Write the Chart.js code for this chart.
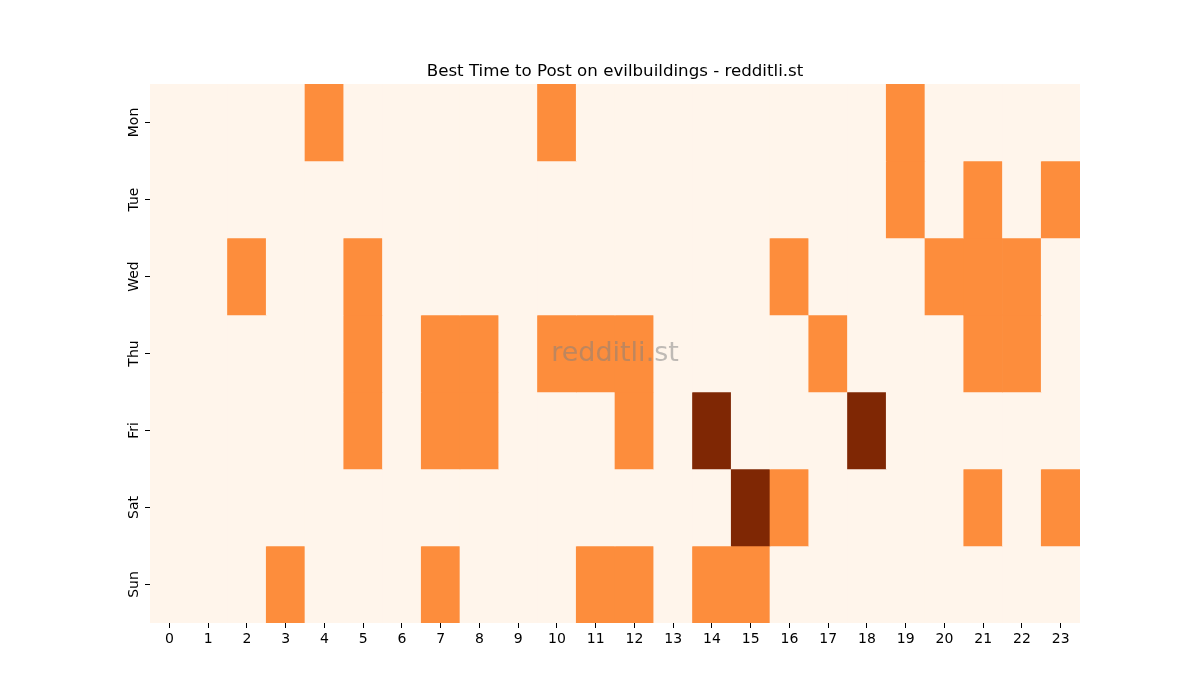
<!DOCTYPE html>
<html>
<head>
<meta charset="utf-8">
<script src="https://cdn.jsdelivr.net/npm/chart.js@4"></script>
<style>
  html, body { margin: 0; padding: 0; background: #fff; }
  #wrap { width: 1200px; height: 700px; }
</style>
</head>
<body>
<div id="wrap"><canvas id="heat"></canvas></div>
<script>
const hours = ['0','1','2','3','4','5','6','7','8','9','10','11','12','13','14','15','16','17','18','19','20','21','22','23'];
const days = ['Mon', 'Tue', 'Wed', 'Thu', 'Fri', 'Sat', 'Sun'];

// 0 = low, 1 = mid, 2 = best
const mon = [0,0,0,0,1,0,0,0,0,0,1,0,0,0,0,0,0,0,0,1,0,0,0,0];
const tue = [0,0,0,0,0,0,0,0,0,0,0,0,0,0,0,0,0,0,0,1,0,1,0,1];
const wed = [0,0,1,0,0,1,0,0,0,0,0,0,0,0,0,0,1,0,0,0,1,1,1,0];
const thu = [0,0,0,0,0,1,0,1,1,0,1,1,1,0,0,0,0,1,0,0,0,1,1,0];
const fri = [0,0,0,0,0,1,0,1,1,0,0,0,1,0,2,0,0,0,2,0,0,0,0,0];
const sat = [0,0,0,0,0,0,0,0,0,0,0,0,0,0,0,2,1,0,0,0,0,1,0,1];
const sun = [0,0,0,1,0,0,0,1,0,0,0,1,1,0,1,1,0,0,0,0,0,0,0,0];

const rows = [mon, tue, wed, thu, fri, sat, sun];
const palette = ['#fff5eb', '#fd8d3c', '#7f2704'];
const titleText = 'Best Time to Post on evilbuildings - redditli.st';

const datasets = rows.map((vals, d) => ({
    label: days[d],
    data: vals.map(() => [d, d + 1]),
    backgroundColor: vals.map(v => palette[v]),
    borderWidth: 0,
    barPercentage: 1.0,
    categoryPercentage: 1.0,
    grouped: false
}));

// title centred over the plot, watermark in the middle of it
const decor = {
    id: 'decor',
    afterDatasetsDraw(chart) {
        const a = chart.chartArea, c = chart.ctx;
        const cx = (a.left + a.right) / 2;
        c.save();
        c.textAlign = 'center';
        c.textBaseline = 'middle';
        c.font = '27px "DejaVu Sans"';
        c.fillStyle = 'rgba(128,128,128,0.5)';
        c.fillText('redditli.st', cx, (a.top + a.bottom) / 2);
        c.font = '16.67px "DejaVu Sans"';
        c.fillStyle = '#000';
        c.textBaseline = 'alphabetic';
        c.fillText(titleText, cx, a.top - 8);
        c.restore();
    }
};

Chart.defaults.font.family = '"DejaVu Sans"';
Chart.defaults.color = '#000';

new Chart(document.getElementById('heat'), {
    type: 'bar',
    data: { labels: hours, datasets: datasets },
    plugins: [decor],
    options: {
        responsive: true,
        maintainAspectRatio: false,
        animation: false,
        layout: { padding: { left: 0, right: 120, top: 84, bottom: 0 } },
        plugins: {
            legend: { display: false },
            tooltip: { enabled: false },
            title: { display: false }
        },
        scales: {
            x: {
                type: 'category',
                offset: true,
                border: { display: false },
                grid: { offset: false, drawOnChartArea: false, drawTicks: true, tickLength: 5, tickColor: '#000' },
                ticks: { font: { size: 14 }, padding: 3, maxRotation: 0, minRotation: 0 },
                afterFit: s => { s.height = 77; }
            },
            y: {
                type: 'linear',
                min: 0,
                max: 7,
                reverse: true,
                border: { display: false },
                grid: { drawOnChartArea: false, drawTicks: true, tickLength: 5, tickColor: '#000' },
                afterBuildTicks: s => { s.ticks = days.map((_, i) => ({ value: i + 0.5 })); },
                ticks: {
                    font: { size: 14 },
                    padding: -5,
                    crossAlign: 'center',
                    minRotation: 90,
                    maxRotation: 90,
                    callback: v => days[Math.floor(v)]
                },
                afterFit: s => { s.width = 150; }
            }
        }
    }
});
</script>
</body>
</html>
